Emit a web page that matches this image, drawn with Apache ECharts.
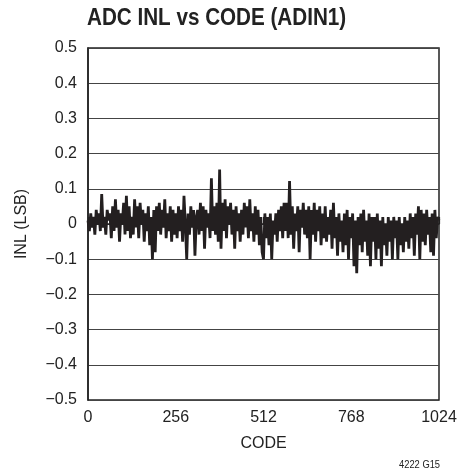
<!DOCTYPE html>
<html>
<head>
<meta charset="utf-8">
<script src="https://cdn.jsdelivr.net/npm/echarts@6/dist/echarts.min.js"></script>
<style>
html,body{margin:0;padding:0;background:#fff;}
#c{width:472px;height:474px;}
</style>
</head>
<body>
<div id="c"></div>
<script>
// INL values, one per 4 codes (code = index * 4)
const codeStep = 4;
const inlG0  = [0.01,-0.02,0.03,-0.01,0.02,-0.03,0.04,0.00,0.03,-0.02,0.085,-0.01,0.02,-0.03,0.04,0.01];
const inlG1  = [0.03,-0.04,0.05,-0.02,0.07,-0.01,0.04,-0.05,0.03,0.00,0.06,-0.03,0.08,-0.02,0.05,-0.04];
const inlG2  = [0.02,-0.03,0.07,-0.01,0.05,-0.04,0.06,0.00,0.04,-0.05,0.03,-0.02,0.05,-0.06,0.02,-0.10];
const inlG3  = [0.04,-0.08,0.05,-0.02,0.06,-0.03,0.04,-0.01,0.07,-0.04,0.03,-0.02,0.05,-0.05,0.04,-0.03];
const inlG4  = [0.03,-0.04,0.05,-0.02,0.04,-0.05,0.08,0.00,-0.10,0.03,-0.03,0.05,-0.01,0.04,-0.09,0.02];
const inlG5  = [0.04,-0.03,0.06,-0.02,0.05,-0.07,0.04,-0.01,0.03,-0.04,0.13,-0.02,0.05,-0.03,0.06,-0.05];
const inlG6  = [0.155,-0.07,0.06,-0.02,0.07,-0.04,0.05,0.00,0.06,-0.03,0.04,-0.07,0.05,-0.02,0.03,-0.05];
const inlG7  = [0.04,-0.03,0.06,-0.01,0.05,-0.04,0.07,-0.02,0.03,-0.05,0.05,-0.03,0.04,-0.06,0.02,-0.08];
const inlG8  = [-0.10,0.03,-0.04,0.02,-0.06,0.03,-0.10,0.01,-0.03,0.03,-0.05,0.04,-0.02,0.05,-0.04,0.06];
const inlG9  = [-0.02,0.06,-0.04,0.122,-0.03,0.05,-0.07,0.03,-0.02,0.05,-0.08,0.04,-0.01,0.06,-0.03,0.04];
const inlG10 = [-0.04,0.05,-0.10,0.04,-0.03,0.06,-0.05,0.04,-0.02,0.05,-0.06,0.03,-0.04,0.05,-0.05,0.02];
const inlG11 = [-0.03,0.04,-0.07,0.06,-0.04,0.02,-0.09,0.03,-0.05,0.01,-0.08,0.03,-0.06,0.04,-0.10,0.02];
const inlG12 = [-0.04,0.03,-0.12,0.01,-0.14,0.02,-0.06,0.03,-0.08,0.04,-0.05,0.01,-0.09,0.03,-0.12,0.02];
const inlG13 = [-0.05,0.02,-0.10,0.03,-0.07,0.01,-0.12,0.02,-0.06,0.00,-0.09,0.02,-0.05,0.01,-0.10,0.02];
const inlG14 = [-0.04,0.01,-0.10,0.02,-0.06,0.00,-0.08,0.02,-0.05,0.01,-0.07,0.03,-0.04,0.02,-0.09,0.03];
const inlG15 = [-0.03,0.05,-0.10,0.04,-0.05,0.03,-0.06,0.04,-0.03,0.02,-0.08,0.03,-0.09,0.04,-0.04,0.02];
const inlLast = [0.01];

const xTickLabels = ['0','256','512','768','1024'];
const yTickLabels = ['−0.5','−0.4','−0.3','−0.2','−0.1','0','0.1','0.2','0.3','0.4','0.5'];

const inl = [].concat(inlG0,inlG1,inlG2,inlG3,inlG4,inlG5,inlG6,inlG7,inlG8,inlG9,inlG10,inlG11,inlG12,inlG13,inlG14,inlG15,inlLast);
const seriesData = inl.map((v,i)=>[i*codeStep, v]);

const FONT = "'Liberation Sans',Arial,sans-serif";
const chart = echarts.init(document.getElementById('c'), null, {renderer:'canvas'});
chart.setOption({
  animation:false,
  backgroundColor:'#fff',
  graphic:[{
    type:'text', x:87, y:6, scaleX:0.86, scaleY:1,
    style:{text:'ADC INL vs CODE (ADIN1)', font:"bold 24px 'Liberation Sans',Arial,sans-serif", fill:'#222'}
  },{
    type:'text', x:399, y:459, scaleX:0.85,
    style:{text:'4222 G15', font:"11px 'Liberation Sans',sans-serif", fill:'#222'}
  }],
  grid:{left:88, right:33, top:48, bottom:74, show:true, borderColor:'#222', borderWidth:1.5, backgroundColor:'transparent'},
  xAxis:{
    type:'value', min:0, max:1024, interval:256,
    name:'CODE', nameLocation:'middle', nameGap:36,
    nameTextStyle:{fontFamily:FONT, fontSize:16, color:'#222'},
    axisLine:{show:true, lineStyle:{color:'#222', width:1.5}},
    axisTick:{show:true, inside:true, length:7, lineStyle:{color:'#222', width:1.2}},
    splitLine:{show:false},
    axisLabel:{fontFamily:FONT, fontSize:16, color:'#222', margin:10,
      formatter:(v)=>xTickLabels[Math.round(v/256)]}
  },
  yAxis:{
    type:'value', min:-0.5, max:0.5, interval:0.1,
    name:'INL (LSB)', nameLocation:'middle', nameGap:58, nameRotate:90,
    nameTextStyle:{fontFamily:FONT, fontSize:16, color:'#222'},
    axisLine:{show:true, lineStyle:{color:'#222', width:1.5}},
    axisTick:{show:false},
    splitLine:{show:true, lineStyle:{color:'#444', width:1}},
    axisLabel:{fontFamily:FONT, fontSize:16, color:'#222', margin:11,
      formatter:(v)=>yTickLabels[Math.round((v+0.5)*10)]}
  },
  series:[{
    type:'line', data:seriesData, symbol:'none',
    lineStyle:{color:'#231f20', width:2.8, join:'bevel', cap:'butt'}
  }]
});
</script>
</body>
</html>
